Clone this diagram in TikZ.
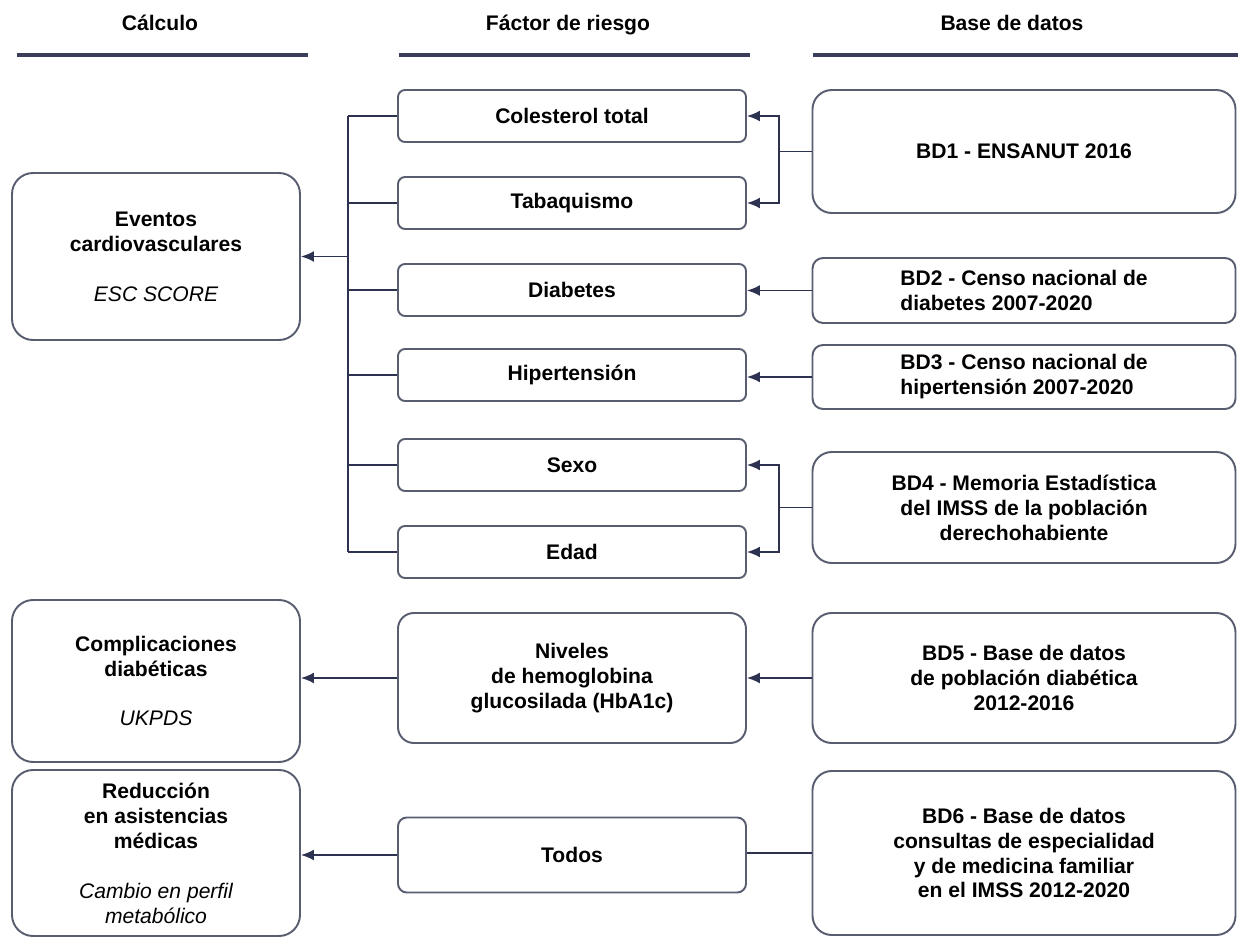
\documentclass[tikz,border=0pt]{standalone}
\usepackage{fontspec}
\setmainfont{Liberation Sans}
\usepackage{xcolor}
\usepackage{tikz}
\usetikzlibrary{arrows.meta, positioning, calc}
\definecolor{boxline}{RGB}{88,93,112}
\definecolor{arrline}{RGB}{45,50,80}
\definecolor{headline}{RGB}{58,62,88}
\tikzset{
	basefont/.style={font=\bfseries\fontsize{12}{14.2}\selectfont},
	calcbox/.style={draw=boxline, line width=1.1pt, rounded corners=12pt, minimum width=5.76cm, align=center, basefont},
	riskbox/.style={draw=boxline, line width=1.1pt, rounded corners=4pt, minimum width=6.96cm, minimum height=1.04cm, align=center, basefont},
	databox/.style={draw=boxline, line width=1.1pt, rounded corners=11pt, minimum width=8.46cm, align=center, basefont},
	headtxt/.style={basefont, anchor=base},
	headrule/.style={draw=headline, line width=2.3pt},
	linkline/.style={draw=arrline, line width=1.1pt},
	linkarr/.style={linkline, -{Latex[length=2.6mm, width=2.2mm]}},
}
\newcommand{\itl}[1]{{\normalfont\itshape #1}}

\begin{document}
\begin{tikzpicture}
	\useasboundingbox (0,0) rectangle (24.76,-18.74);
	% column headers
	\node[headtxt] (hcalc) at (3.2,-0.62) {Cálculo};
	\node[headtxt] (hrisk) at (11.36,-0.62) {Fáctor de riesgo};
	\node[headtxt] (hdata) at (20.24,-0.62) {Base de datos};
	\draw[headrule] (0.34,-1.1) -- (6.16,-1.1);
	\draw[headrule] (7.98,-1.1) -- (15.0,-1.1);
	\draw[headrule] (16.26,-1.1) -- (24.76,-1.1);

	% calculo
	\node[calcbox, minimum height=3.34cm] (evc) at (3.12,-5.13) {Eventos\\cardiovasculares\\[0.5cm]\itl{ESC SCORE}};
	\node[calcbox, minimum height=3.24cm] (comp) at (3.12,-13.62) {Complicaciones\\diabéticas\\[0.5cm]\itl{UKPDS}};
	\node[calcbox, minimum height=3.32cm] (red) at (3.12,-17.06) {Reducción\\en asistencias\\médicas\\[0.5cm]\itl{Cambio en perfil}\\\itl{metabólico}};

	% factores de riesgo
	\node[riskbox] (col) at (11.44,-2.32) {Colesterol total};
	\node[riskbox] (tab) at (11.44,-4.06) {Tabaquismo};
	\node[riskbox] (diab) at (11.44,-5.80) {Diabetes};
	\node[riskbox] (hip) at (11.44,-7.50) {Hipertensión};
	\node[riskbox] (sexo) at (11.44,-9.30) {Sexo};
	\node[riskbox] (edad) at (11.44,-11.04) {Edad};
	\node[riskbox, rounded corners=9pt, minimum height=2.6cm] (niv) at (11.44,-13.56) {Niveles\\de hemoglobina\\glucosilada (HbA1c)};
	\node[riskbox, rounded corners=5pt, minimum height=1.5cm] (todos) at (11.44,-17.10) {Todos};

	% bases de datos
	\node[databox, minimum height=2.46cm] (bd1) at (20.48,-3.03) {BD1 - ENSANUT 2016};
	\node[databox, rounded corners=6pt, minimum height=1.3cm, align=left] (bd2) at (20.48,-5.81) {BD2 - Censo nacional de\\diabetes 2007-2020};
	\node[databox, rounded corners=6pt, minimum height=1.28cm, align=left] (bd3) at (20.48,-7.54) {BD3 - Censo nacional de\\hipertensión 2007-2020};
	\node[databox, minimum height=2.22cm] (bd4) at (20.48,-10.15) {BD4 - Memoria Estadística\\del IMSS de la población\\derechohabiente};
	\node[databox, minimum height=2.6cm] (bd5) at (20.48,-13.56) {BD5 - Base de datos\\de población diabética\\2012-2016};
	\node[databox, minimum height=3.28cm] (bd6) at (20.48,-17.06) {BD6 - Base de datos\\consultas de especialidad\\y de medicina familiar\\en el IMSS 2012-2020};

	% bus izquierdo
	\coordinate (bus) at (6.96,0);
	\coordinate (fork) at (15.58,0);
	\draw[linkline] (col.west -| bus) -- (edad.west -| bus);
	\foreach \n in {col, tab, diab, hip, sexo, edad}
		\draw[linkline] (\n.west) -- (\n.west -| bus);
	\draw[linkarr] (evc.east -| bus) -- (evc.east);

	% conexiones desde las bases
	\draw[linkline] (bd1.west) -- (bd1.west -| fork);
	\draw[linkarr] (bd1.west -| fork) |- (col.east);
	\draw[linkarr] (bd1.west -| fork) |- (tab.east);
	\draw[linkarr] (bd2.west) -- (bd2.west -| diab.east);
	\draw[linkarr] (bd3.west) -- (bd3.west -| hip.east);
	\draw[linkline] (bd4.west) -- (bd4.west -| fork);
	\draw[linkarr] (bd4.west -| fork) |- (sexo.east);
	\draw[linkarr] (bd4.west -| fork) |- (edad.east);
	\draw[linkarr] (bd5.west) -- (bd5.west -| niv.east);
	\draw[linkarr] (niv.west) -- (niv.west -| comp.east);
	\draw[linkline] (bd6.west) -- (bd6.west -| todos.east);
	\draw[linkarr] (todos.west) -- (todos.west -| red.east);
\end{tikzpicture}
\end{document}
